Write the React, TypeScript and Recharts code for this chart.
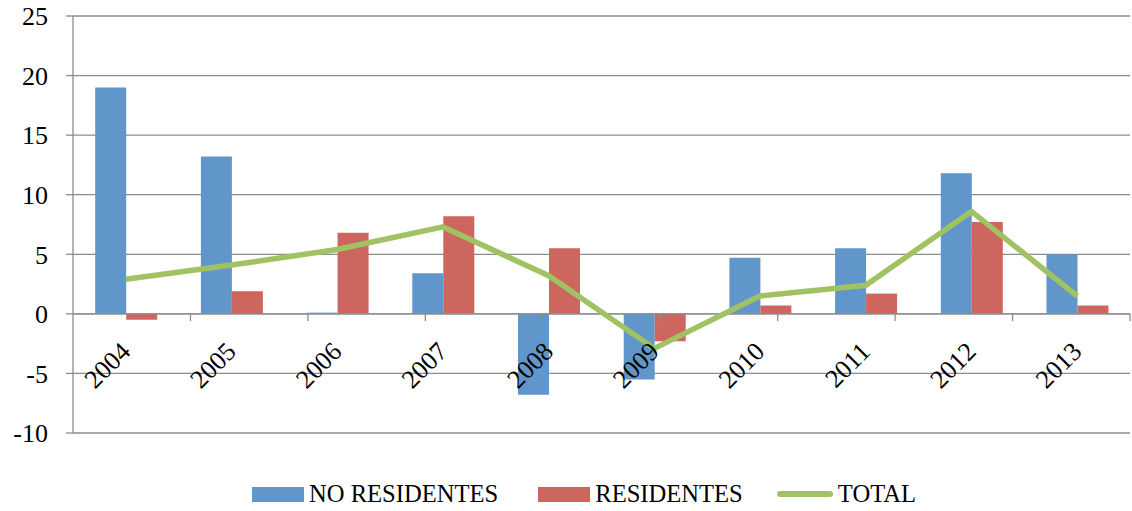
import {
  ComposedChart,
  Bar,
  Line,
  XAxis,
  YAxis,
  CartesianGrid,
  ReferenceLine,
  Legend,
} from "recharts";

const years = ["2004", "2005", "2006", "2007", "2008", "2009", "2010", "2011", "2012", "2013"];
const noResidentes = [19.0, 13.2, 0.1, 3.4, -6.8, -5.5, 4.7, 5.5, 11.8, 5.0];
const residentes = [-0.5, 1.9, 6.8, 8.2, 5.5, -2.3, 0.7, 1.7, 7.7, 0.7];
const total = [2.9, 4.1, 5.4, 7.3, 3.2, -2.9, 1.5, 2.4, 8.6, 1.5];
const yTicks = [-10, -5, 0, 5, 10, 15, 20, 25];

const data = years.map((year, i) => ({
  year,
  noResidentes: noResidentes[i],
  residentes: residentes[i],
  total: total[i],
}));

const BLUE = "#6096ca";
const RED = "#cd665e";
const GREEN = "#a0c263";
const GRID = "#8c8c8c";
const FONT = "'Liberation Serif', 'Times New Roman', serif";

// year labels sit just under the zero line, not at the bottom of the plot
const YearTick = ({ x, y, payload }: any) => {
  const tx = x + 6;
  const ty = y - 80;
  return (
    <text
      x={tx}
      y={ty}
      transform={`rotate(-45, ${tx}, ${ty})`}
      textAnchor="end"
      fontSize={26}
      fontFamily={FONT}
      fill="#000"
    >
      {payload.value}
    </text>
  );
};

const legendItems = [
  { label: "NO RESIDENTES", color: BLUE, kind: "bar", gap: 40 },
  { label: "RESIDENTES", color: RED, kind: "bar", gap: 34 },
  { label: "TOTAL", color: GREEN, kind: "line", gap: 0 },
];

const LegendContent = () => (
  <div
    style={{
      display: "flex",
      alignItems: "center",
      height: 40,
      paddingLeft: 252,
      fontFamily: FONT,
      fontSize: 24.6,
      color: "#000",
      transform: "translateY(3px)",
    }}
  >
    {legendItems.map((it) => (
      <div key={it.label} style={{ display: "flex", alignItems: "center", marginRight: it.gap }}>
        {it.kind === "bar" ? (
          <span style={{ display: "inline-block", width: 52, height: 15, background: it.color }} />
        ) : (
          <span
            style={{ display: "inline-block", width: 56, height: 6, borderRadius: 3, background: it.color }}
          />
        )}
        <span style={{ marginLeft: 5, lineHeight: "28px" }}>{it.label}</span>
      </div>
    ))}
  </div>
);

export default function App() {
  const boundaries = years.map((_, i) => i + 1);
  return (
    <div style={{ position: "absolute", left: 0, top: 0, background: "#fff" }}>
      <ComposedChart
        width={1132}
        height={511}
        data={data}
        margin={{ top: 16, right: 2, left: 0, bottom: 0 }}
        barCategoryGap="21%"
        barGap={0}
      >
        <CartesianGrid vertical={false} stroke={GRID} strokeWidth={1.3} />
        <XAxis
          dataKey="year"
          height={38}
          axisLine={false}
          tickLine={false}
          tickSize={0}
          tickMargin={0}
          interval={0}
          tick={<YearTick />}
        />
        <XAxis xAxisId="num" type="number" domain={[0, years.length]} hide />
        <YAxis
          domain={[-10, 25]}
          ticks={yTicks}
          width={73}
          axisLine={{ stroke: GRID, strokeWidth: 1.3 }}
          tickLine={{ stroke: GRID, strokeWidth: 1.3 }}
          tickSize={7}
          tickMargin={18}
          tick={{ fill: "#000", fontSize: 26, fontFamily: FONT }}
        />
        <ReferenceLine y={0} stroke={GRID} strokeWidth={1.3} />
        {boundaries.map((b) => (
          <ReferenceLine
            key={b}
            xAxisId="num"
            segment={[
              { x: b, y: 0 },
              { x: b, y: -0.6 },
            ]}
            stroke={GRID}
            strokeWidth={1.3}
          />
        ))}
        <Bar dataKey="noResidentes" name="NO RESIDENTES" fill={BLUE} isAnimationActive={false} />
        <Bar dataKey="residentes" name="RESIDENTES" fill={RED} isAnimationActive={false} />
        <Line
          dataKey="total"
          name="TOTAL"
          stroke={GREEN}
          strokeWidth={5.5}
          dot={false}
          activeDot={false}
          type="linear"
          isAnimationActive={false}
        />
        <Legend verticalAlign="bottom" content={<LegendContent />} wrapperStyle={{ left: 0, width: 1132 }} />
      </ComposedChart>
    </div>
  );
}
